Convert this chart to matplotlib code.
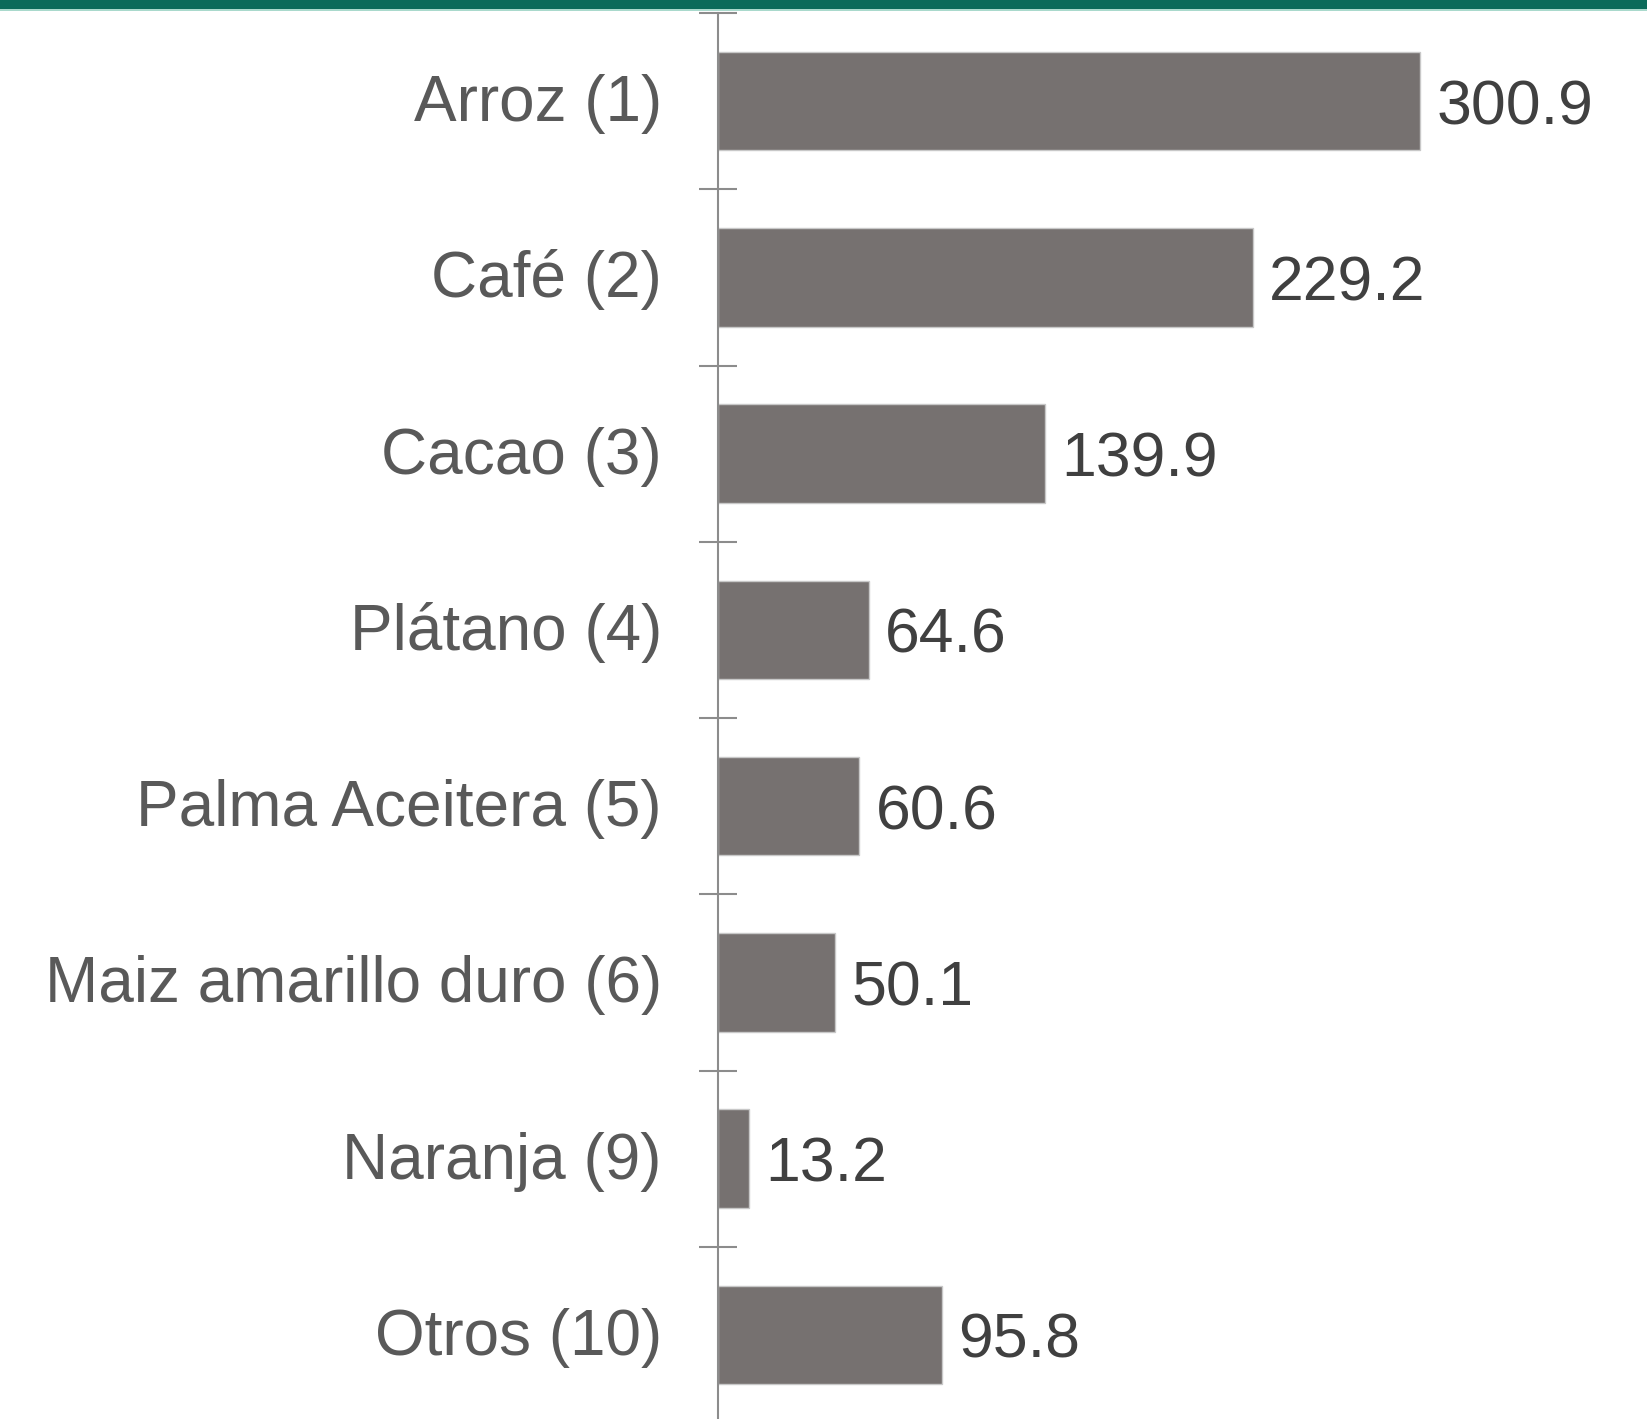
import matplotlib
matplotlib.use("Agg")
import matplotlib.pyplot as plt
from matplotlib.patches import Rectangle
from matplotlib.transforms import ScaledTranslation

plt.rcParams["font.family"] = ["Liberation Sans", "DejaVu Sans"]

categories = ["Arroz (1)", "Café (2)", "Cacao (3)", "Plátano (4)",
              "Palma Aceitera (5)", "Maiz amarillo duro (6)", "Naranja (9)",
              "Otros (10)"]
values = [300.9, 229.2, 139.9, 64.6, 60.6, 50.1, 13.2, 95.8]
value_labels = ["300.9", "229.2", "139.9", "64.6", "60.6", "50.1", "13.2", "95.8"]

W, H = 1647, 1419
fig = plt.figure(figsize=(W / 100, H / 100), dpi=100)

# axes box in pixels: left at x=718, top at y=13, bottom just below the figure
left, top, bottom = 718, 13, 1423
ax = fig.add_axes([left / W, (H - bottom) / H, 1 - left / W, (bottom - top) / H])

pos = list(range(len(categories)))
ax.barh(pos, values, height=0.56, color="#767170", edgecolor="#c8c8c8",
        linewidth=1)
ax.set_ylim(len(categories) - 0.5, -0.5)
ax.set_xlim(0, 398)

# value labels: baseline placed ~23 px below bar centre
val_shift = ScaledTranslation(0, -23 / 100, fig.dpi_scale_trans)
for p, v, lab in zip(pos, values, value_labels):
    ax.text(v + 7.0, p, lab, va="baseline", ha="left", fontsize=45,
            color="#404040", transform=ax.transData + val_shift)

# category labels drawn as text so the baseline can be placed exactly
cat_shift = ScaledTranslation(-56 / 100, -20 / 100, fig.dpi_scale_trans)
for p, lab in zip(pos, categories):
    ax.text(0, p, lab, va="baseline", ha="right", fontsize=46,
            color="#595959", transform=ax.get_yaxis_transform() + cat_shift)

ax.set_yticks(pos)
ax.set_yticklabels([])
ax.tick_params(axis="y", which="major", length=0)
ax.set_yticks([p - 0.5 for p in range(len(categories) + 1)], minor=True)
ax.tick_params(axis="y", which="minor", direction="inout", length=27.4,
               width=1.5, color="#8c8c8c")

ax.set_xticks([])
for s in ["top", "right", "bottom"]:
    ax.spines[s].set_visible(False)
ax.spines["left"].set_color("#8c8c8c")
ax.spines["left"].set_linewidth(1.5)

# green band across the top
fig.add_artist(Rectangle((0, 1 - 9 / H), 1, 9 / H, transform=fig.transFigure,
                         color="#0b6b5a", lw=0))
fig.add_artist(Rectangle((0, 1 - 10.5 / H), 1, 1.5 / H, transform=fig.transFigure,
                         color="#a9d9cc", lw=0))

fig.savefig("out.png", dpi=100)
